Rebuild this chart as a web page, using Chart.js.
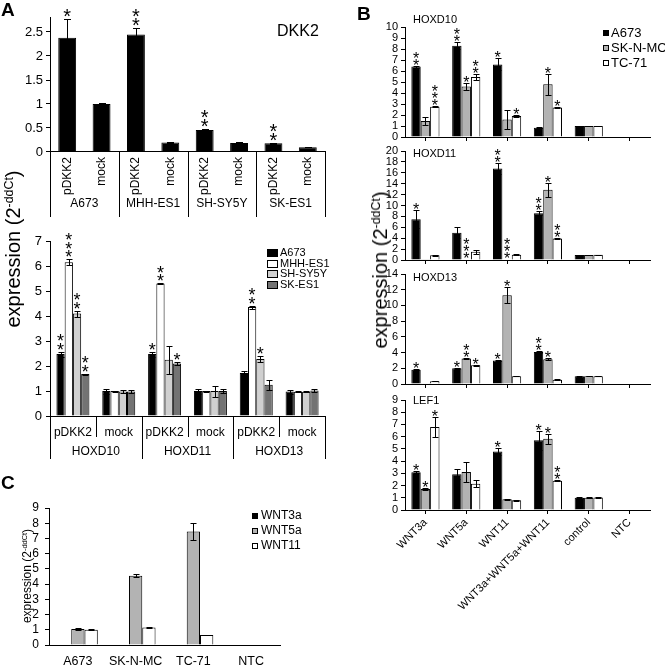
<!DOCTYPE html>
<html><head><meta charset="utf-8">
<script src="https://cdn.jsdelivr.net/npm/chart.js@4.4.1/dist/chart.umd.min.js"></script>
<style>
html,body{margin:0;padding:0;background:#fff;}
#root{position:relative;width:665px;height:665px;overflow:hidden;font-family:"Liberation Sans",Arial,sans-serif;color:#000;}
canvas{position:absolute;left:0;top:0;}
.t{position:absolute;white-space:nowrap;line-height:1;}
.rot{position:absolute;white-space:nowrap;line-height:1;transform:translate(-50%,-50%) rotate(-90deg);}
.sup{font-size:62%;position:relative;top:-0.55em;}
</style></head>
<body><div id="root">
<canvas id="cA1" width="665" height="665"></canvas>
<canvas id="cA2" width="665" height="665"></canvas>
<canvas id="cB1" width="665" height="665"></canvas>
<canvas id="cB2" width="665" height="665"></canvas>
<canvas id="cB3" width="665" height="665"></canvas>
<canvas id="cB4" width="665" height="665"></canvas>
<canvas id="cC" width="665" height="665"></canvas>
<div class="t" style="left:1px;top:0px;font-size:19px;font-weight:bold;">A</div>
<div class="t" style="left:357px;top:4px;font-size:19px;font-weight:bold;">B</div>
<div class="t" style="left:1px;top:473px;font-size:19px;font-weight:bold;">C</div>
<div class="t" style="left:277px;top:23px;font-size:16px;">DKK2</div>
<div class="t" style="left:413px;top:13.6px;font-size:11px;">HOXD10</div>
<div class="t" style="left:413px;top:147.6px;font-size:11px;">HOXD11</div>
<div class="t" style="left:413px;top:271.6px;font-size:11px;">HOXD13</div>
<div class="t" style="left:413px;top:394.6px;font-size:11px;">LEF1</div>
<div class="rot" style="left:13px;top:249px;font-size:20px;">expression (2<span class="sup">-ddCt</span>)</div>
<div class="rot" style="left:380px;top:270px;font-size:20px;">expression (2<span class="sup">-ddCt</span>)</div>
<div class="rot" style="left:27px;top:576px;font-size:12px;">expression (2<span class="sup">-ddCt</span>)</div>
</div>
<script>
// ================= DATA =================
// Panel A (top): DKK2
const dkk2Labels = ['pDKK2','mock','pDKK2','mock','pDKK2','mock','pDKK2','mock'];
const dkk2Groups = ['A673','MHH-ES1','SH-SY5Y','SK-ES1'];
const dkk2Values = [2.38, 1.0, 2.45, 0.2, 0.46, 0.19, 0.18, 0.1];
const dkk2Errors = [0.39, 0.02, 0.13, 0.01, 0.02, 0.01, 0.01, 0.005];
const dkk2Stars  = ['*', '', '**', '', '**', '', '**', ''];

// Panel A (bottom): HOXD genes after pDKK2 / mock
const hoxLabels = ['pDKK2','mock','pDKK2','mock','pDKK2','mock'];
const hoxGroups = ['HOXD10','HOXD11','HOXD13'];
const hoxSeries = ['A673','MHH-ES1','SH-SY5Y','SK-ES1'];
const hoxA673      = [2.48, 1.0, 2.48, 1.0, 1.72, 0.98];
const hoxA673Err   = [0.1, 0.1, 0.1, 0.1, 0.1, 0.08];
const hoxA673Stars = ['**', '', '*', '', '', ''];
const hoxMHH       = [6.15, 1.0, 5.3, 1.0, 4.36, 0.97];
const hoxMHHErr    = [0.12, 0.02, 0.02, 0.02, 0.06, 0.02];
const hoxMHHStars  = ['***', '', '**', '', '**', ''];
const hoxSHSY      = [4.1, 0.98, 2.25, 1.0, 2.28, 0.97];
const hoxSHSYErr   = [0.12, 0.06, 0.56, 0.22, 0.12, 0.02];
const hoxSHSYStars = ['**', '', '', '', '*', ''];
const hoxSKES      = [1.68, 0.98, 2.1, 1.0, 1.25, 1.02];
const hoxSKESErr   = [0.02, 0.06, 0.06, 0.08, 0.2, 0.06];
const hoxSKESStars = ['**', '', '*', '', '', ''];

// Panel B: WNT stimulation, series A673 / SK-N-MC / TC-71
const wntLabels = ['WNT3a','WNT5a','WNT11','WNT3a+WNT5a+WNT11','control','NTC'];
const bSeries = ['A673','SK-N-MC','TC-71'];
// HOXD10
const d10A673 = [6.4, 8.3, 6.6, 0.85, 1.0, 0];
const d10A673Err = [0.1, 0.3, 0.55, 0.02, 0.02, 0];
const d10A673Stars = ['**','**','*','','',''];
const d10SKNMC = [1.45, 4.6, 1.6, 4.8, 1.0, 0];
const d10SKNMCErr = [0.4, 0.3, 0.85, 0.95, 0.03, 0];
const d10SKNMCStars = ['','*','','*','',''];
const d10TC71 = [2.75, 5.45, 1.92, 2.68, 1.0, 0];
const d10TC71Err = [0.03, 0.25, 0.08, 0.08, 0.02, 0];
const d10TC71Stars = ['***','**','*','*','',''];
// HOXD11
const d11A673 = [7.5, 5.0, 16.8, 8.6, 0.9, 0];
const d11A673Err = [1.6, 1.0, 1.0, 0.3, 0.05, 0];
const d11A673Stars = ['*','','**','**','',''];
const d11SKNMC = [0.05, 0.1, 0.1, 12.9, 0.9, 0];
const d11SKNMCErr = [0, 0, 0, 1.3, 0.05, 0];
const d11SKNMCStars = ['','***','***','*','',''];
const d11TC71 = [0.85, 1.5, 0.97, 3.95, 0.95, 0];
const d11TC71Err = [0.08, 0.35, 0.08, 0.05, 0.05, 0];
const d11TC71Stars = ['','','','**','',''];
// HOXD13
const d13A673 = [1.8, 2.0, 3.0, 4.08, 0.98, 0];
const d13A673Err = [0.08, 0.1, 0.06, 0.1, 0.03, 0];
const d13A673Stars = ['*','*','*','**','',''];
const d13SKNMC = [0.02, 3.25, 11.3, 3.15, 1.0, 0];
const d13SKNMCErr = [0, 0.1, 1.0, 0.1, 0.03, 0];
const d13SKNMCStars = ['','**','*','*','',''];
const d13TC71 = [0.35, 2.38, 1.0, 0.55, 1.0, 0];
const d13TC71Err = [0.03, 0.05, 0.03, 0.03, 0.02, 0];
const d13TC71Stars = ['','*','','','',''];
// LEF1
const lefA673 = [3.08, 2.92, 4.78, 5.7, 1.0, 0];
const lefA673Err = [0.08, 0.4, 0.3, 0.75, 0.03, 0];
const lefA673Stars = ['*','','*','*','',''];
const lefSKNMC = [1.72, 3.1, 0.87, 5.82, 1.0, 0];
const lefSKNMCErr = [0.05, 0.8, 0.04, 0.4, 0.03, 0];
const lefSKNMCStars = ['*','','','*','',''];
const lefTC71 = [6.8, 2.15, 0.8, 2.4, 1.02, 0];
const lefTC71Err = [0.85, 0.3, 0.04, 0.04, 0.05, 0];
const lefTC71Stars = ['*','','','**','',''];

// Panel C: WNT expression in cell lines
const cLabels = ['A673','SK-N-MC','TC-71','NTC'];
const cSeries = ['WNT3a','WNT5a','WNT11'];
const cWNT3a = [0, 0, 0, 0];
const cWNT5a = [1.05, 4.55, 7.45, 0];
const cWNT5aErr = [0.04, 0.1, 0.55, 0];
const cWNT11 = [1.0, 1.15, 0.65, 0];
const cWNT11Err = [0.02, 0.02, 0.02, 0];

// ================= DRAWING =================
const FONT = '"Liberation Sans", Arial, sans-serif';
const W = 665, H = 665;
Chart.defaults.font.family = FONT;
Chart.defaults.color = '#000';

const extrasPlugin = {
  id: 'extras',
  afterDatasetsDraw(chart, args, opts) {
    const ctx = chart.ctx;
    const ys = chart.scales.y, xs = chart.scales.x;
    ctx.save();
    chart.data.datasets.forEach((ds, di) => {
      const meta = chart.getDatasetMeta(di);
      meta.data.forEach((bar, i) => {
        const v = ds.data[i];
        const e = ds.errors ? ds.errors[i] : 0;
        const x = Math.round(bar.x) + 0.5;
        if (e > 0) {
          const yt = Math.round(ys.getPixelForValue(v + e)) + 0.5;
          const yb = Math.round(ys.getPixelForValue(Math.max(v - e, 0))) + 0.5;
          const c = opts.cap / 2;
          ctx.strokeStyle = '#000'; ctx.lineWidth = 1;
          ctx.beginPath();
          ctx.moveTo(x, yt); ctx.lineTo(x, yb);
          ctx.moveTo(x - c, yt); ctx.lineTo(x + c, yt);
          ctx.moveTo(x - c, yb); ctx.lineTo(x + c, yb);
          ctx.stroke();
        }
        const s = ds.stars ? ds.stars[i] : '';
        if (s) {
          ctx.font = opts.starSize + 'px ' + FONT;
          ctx.fillStyle = '#000';
          ctx.textAlign = 'center';
          ctx.textBaseline = 'alphabetic';
          const m = ctx.measureText('*');
          const desc = m.actualBoundingBoxDescent;
          const y0 = ys.getPixelForValue(v + (e || 0)) - opts.starGap;
          for (let k = 0; k < s.length; k++) {
            ctx.fillText('*', bar.x, y0 - k * opts.starStep - desc);
          }
        }
      });
    });
    if (opts.legend) {
      const L = opts.legend;
      ctx.font = L.size + 'px ' + FONT;
      ctx.textAlign = 'left'; ctx.textBaseline = 'middle';
      chart.data.datasets.forEach((ds, di) => {
        const y = L.y + di * L.dy;
        const top = Math.round(y - L.bh / 2);
        ctx.fillStyle = ds.backgroundColor;
        ctx.fillRect(L.x, top, L.bw, L.bh);
        ctx.strokeStyle = '#000'; ctx.lineWidth = 1;
        ctx.strokeRect(L.x + 0.5, top + 0.5, L.bw - 1, L.bh - 1);
        ctx.fillStyle = '#000';
        ctx.fillText(ds.label, L.x + L.bw + L.gap, y);
      });
    }
    if (opts.groups) {
      const G = opts.groups;
      const n = chart.data.labels.length;
      const c0 = xs.getPixelForValue(0), c1 = xs.getPixelForValue(1);
      const half = (c1 - c0) / 2;
      const base = xs.top;
      ctx.strokeStyle = '#000'; ctx.lineWidth = 1;
      for (let i = 0; i <= n; i++) {
        const bx = Math.round(c0 + (2 * i - 1) * half) + 0.5;
        const isGroup = i % G.per === 0;
        const bottom = isGroup ? G.longBottom : G.shortBottom;
        if (!bottom) continue;
        ctx.beginPath(); ctx.moveTo(bx, base); ctx.lineTo(bx, bottom); ctx.stroke();
      }
      ctx.font = G.size + 'px ' + FONT; ctx.fillStyle = '#000';
      ctx.textAlign = 'center'; ctx.textBaseline = 'middle';
      G.labels.forEach((lab, gi) => {
        const first = xs.getPixelForValue(gi * G.per);
        const last = xs.getPixelForValue(gi * G.per + G.per - 1);
        ctx.fillText(lab, (first + last) / 2, G.labelY);
      });
    }
    ctx.restore();
  }
};

function makeBar(id, cfg) {
  const a = cfg.area;
  return new Chart(document.getElementById(id), {
    type: 'bar',
    data: {
      labels: cfg.labels,
      datasets: cfg.datasets.map(d => ({
        label: d.label, data: d.data, errors: d.errors, stars: d.stars,
        backgroundColor: d.color, borderColor: '#000', borderWidth: 1,
        categoryPercentage: cfg.catPct, barPercentage: 1
      }))
    },
    options: {
      responsive: false, animation: false, events: [],
      layout: { padding: { left: a.left - cfg.yW, top: a.top, right: W - a.right, bottom: H - a.bottom - cfg.xH } },
      plugins: { legend: { display: false }, tooltip: { enabled: false }, extras: cfg.extras },
      scales: {
        x: Object.assign({
          afterFit: s => { s.height = cfg.xH; },
          border: { display: true, color: '#000', width: 1 }
        }, cfg.x),
        y: {
          min: 0, max: cfg.max,
          afterFit: s => { s.width = cfg.yW; },
          border: { display: true, color: '#000', width: 1 },
          grid: { display: true, drawOnChartArea: false, drawTicks: true, tickLength: cfg.yTick || 4, color: '#000' },
          ticks: { stepSize: cfg.step, autoSkip: false, includeBounds: false, padding: cfg.yPad, font: { size: cfg.yFont }, color: '#000', callback: v => String(v) }
        }
      }
    },
    plugins: [extrasPlugin]
  });
}

const BLACK = '#000000', WHITE = '#ffffff', GRAY_B = '#b3b3b3', LIGHT_A = '#d0d0d0', DARK_A = '#737373';

// Panel A top
makeBar('cA1', {
  area: { left: 50, top: 17.6, right: 325, bottom: 152 }, yW: 45, xH: 60,
  max: 2.8, step: 0.5, yFont: 13, yPad: 3, yTick: 4, catPct: 0.52,
  labels: dkk2Labels,
  datasets: [{ label: 'DKK2', data: dkk2Values, errors: dkk2Errors, stars: dkk2Stars, color: BLACK }],
  x: { grid: { display: false, drawTicks: false }, ticks: { minRotation: 90, maxRotation: 90, autoSkip: false, padding: 5, font: { size: 12 }, color: '#000' } },
  extras: { cap: 7, starSize: 20, starGap: 2, starStep: 9,
    groups: { labels: dkk2Groups, per: 2, longBottom: 217, shortBottom: 0, labelY: 204, size: 12 } }
});

// Panel A bottom
makeBar('cA2', {
  area: { left: 50, top: 241, right: 325, bottom: 416 }, yW: 45, xH: 40,
  max: 7, step: 1, yFont: 13, yPad: 4, yTick: 4, catPct: 0.72,
  labels: hoxLabels,
  datasets: [
    { label: hoxSeries[0], data: hoxA673, errors: hoxA673Err, stars: hoxA673Stars, color: BLACK },
    { label: hoxSeries[1], data: hoxMHH, errors: hoxMHHErr, stars: hoxMHHStars, color: WHITE },
    { label: hoxSeries[2], data: hoxSHSY, errors: hoxSHSYErr, stars: hoxSHSYStars, color: LIGHT_A },
    { label: hoxSeries[3], data: hoxSKES, errors: hoxSKESErr, stars: hoxSKESStars, color: DARK_A }
  ],
  x: { grid: { display: false, drawTicks: false }, ticks: { maxRotation: 0, autoSkip: false, padding: 9, font: { size: 12 }, color: '#000' } },
  extras: { cap: 6, starSize: 18, starGap: 2, starStep: 8.5,
    legend: { x: 267, y: 253, dy: 10.5, bw: 11, bh: 8, gap: 2, size: 11 },
    groups: { labels: hoxGroups, per: 2, longBottom: 459, shortBottom: 437, labelY: 452, size: 12 } }
});

// Panel B
function bPanel(id, area, max, step, sets, showX, legend) {
  makeBar(id, {
    area, yW: 40, xH: showX ? 120 : 10, max, step, yFont: 11, yPad: 3, yTick: 4, catPct: 0.69,
    labels: wntLabels,
    datasets: [
      { label: bSeries[0], data: sets[0], errors: sets[1], stars: sets[2], color: BLACK },
      { label: bSeries[1], data: sets[3], errors: sets[4], stars: sets[5], color: GRAY_B },
      { label: bSeries[2], data: sets[6], errors: sets[7], stars: sets[8], color: WHITE }
    ],
    x: { grid: { display: true, offset: false, drawOnChartArea: false, drawTicks: true, tickLength: 4, color: '#000' },
         ticks: { display: showX, minRotation: 45, maxRotation: 45, autoSkip: false, padding: 2, font: { size: 11 }, color: '#000' } },
    extras: Object.assign({ cap: 6, starSize: 16, starGap: 1, starStep: 7 }, legend ? { legend } : {})
  });
}
bPanel('cB1', { left: 405, top: 27, right: 650, bottom: 137 }, 10, 1,
  [d10A673, d10A673Err, d10A673Stars, d10SKNMC, d10SKNMCErr, d10SKNMCStars, d10TC71, d10TC71Err, d10TC71Stars], false,
  { x: 603, y: 33, dy: 15, bw: 6, bh: 6, gap: 2, size: 13 });
bPanel('cB2', { left: 405, top: 151, right: 650, bottom: 260 }, 20, 2,
  [d11A673, d11A673Err, d11A673Stars, d11SKNMC, d11SKNMCErr, d11SKNMCStars, d11TC71, d11TC71Err, d11TC71Stars], false, null);
bPanel('cB3', { left: 405, top: 274, right: 650, bottom: 384 }, 14, 2,
  [d13A673, d13A673Err, d13A673Stars, d13SKNMC, d13SKNMCErr, d13SKNMCStars, d13TC71, d13TC71Err, d13TC71Stars], false, null);
bPanel('cB4', { left: 405, top: 400, right: 650, bottom: 510 }, 9, 1,
  [lefA673, lefA673Err, lefA673Stars, lefSKNMC, lefSKNMCErr, lefSKNMCStars, lefTC71, lefTC71Err, lefTC71Stars], true, null);

// Panel C
makeBar('cC', {
  area: { left: 49, top: 508, right: 280, bottom: 645 }, yW: 40, xH: 20,
  max: 9, step: 1, yFont: 12, yPad: 6, yTick: 4, catPct: 0.69,
  labels: cLabels,
  datasets: [
    { label: cSeries[0], data: cWNT3a, errors: null, stars: null, color: BLACK },
    { label: cSeries[1], data: cWNT5a, errors: cWNT5aErr, stars: null, color: GRAY_B },
    { label: cSeries[2], data: cWNT11, errors: cWNT11Err, stars: null, color: WHITE }
  ],
  x: { grid: { display: false, drawTicks: false }, ticks: { maxRotation: 0, autoSkip: false, padding: 9, font: { size: 12.5 }, color: '#000' } },
  extras: { cap: 6, starSize: 16, starGap: 1, starStep: 7,
    legend: { x: 252, y: 516, dy: 15, bw: 6, bh: 6, gap: 3, size: 12 } }
});
</script>
</body></html>
